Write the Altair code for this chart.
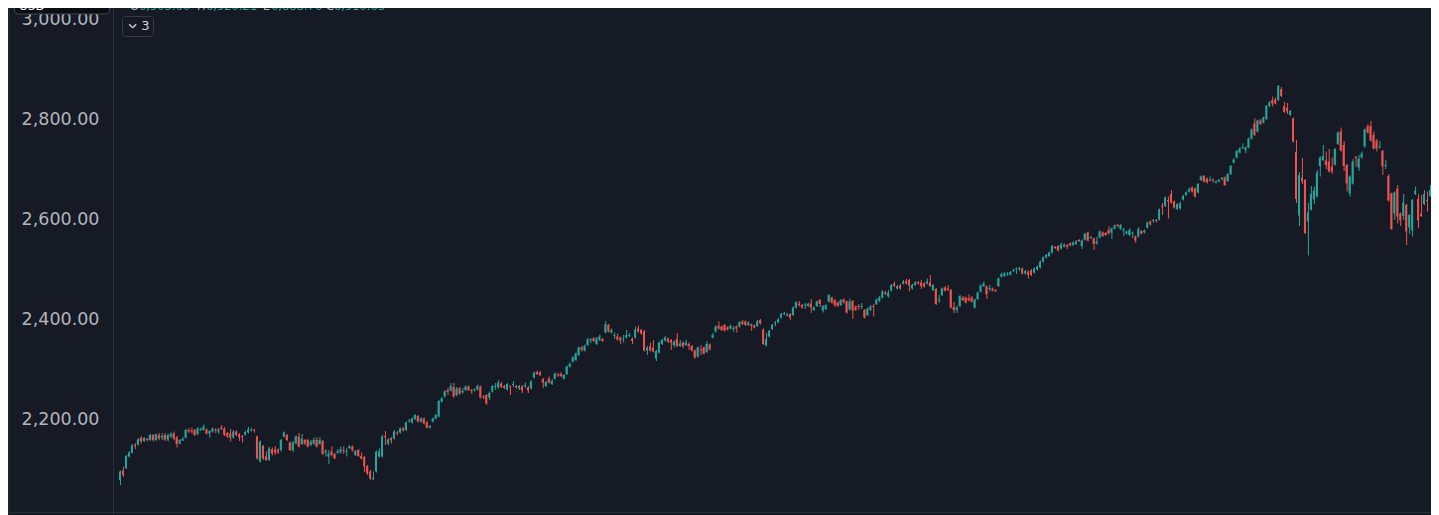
import altair as alt
import pandas as pd

# ---------------- data ----------------
opens = [
    2078, 2097, 2102, 2125, 2133, 2148, 2149, 2162, 2156, 2160,
    2158, 2168, 2158, 2168, 2163, 2168, 2159, 2165, 2171, 2163,
    2151, 2157, 2163, 2178, 2177, 2178, 2170, 2178, 2178, 2179,
    2171, 2175, 2179, 2175, 2183, 2181, 2172, 2171, 2163, 2175,
    2169, 2166, 2169, 2173, 2177, 2179, 2165, 2115, 2146, 2125,
    2118, 2140, 2139, 2139, 2138, 2165, 2168, 2153, 2138, 2151,
    2165, 2150, 2158, 2158, 2148, 2151, 2158, 2150, 2156, 2133,
    2125, 2135, 2130, 2133, 2133, 2138, 2134, 2142, 2145, 2128,
    2138, 2126, 2124, 2106, 2095, 2080, 2095, 2125, 2125, 2166,
    2151, 2161, 2161, 2173, 2173, 2181, 2178, 2195, 2193, 2200,
    2206, 2195, 2201, 2193, 2183, 2195, 2201, 2205, 2235, 2245,
    2257, 2257, 2264, 2248, 2261, 2253, 2258, 2265, 2258, 2257,
    2259, 2265, 2245, 2248, 2243, 2255, 2264, 2263, 2271, 2266,
    2259, 2266, 2268, 2266, 2261, 2265, 2266, 2263, 2261, 2283,
    2294, 2293, 2280, 2266, 2281, 2270, 2281, 2289, 2290, 2281,
    2290, 2305, 2315, 2318, 2328, 2343, 2337, 2348, 2357, 2361,
    2350, 2358, 2360, 2373, 2388, 2373, 2366, 2365, 2363, 2359,
    2363, 2366, 2361, 2363, 2381, 2378, 2375, 2337, 2345, 2343,
    2321, 2333, 2350, 2357, 2361, 2358, 2348, 2360, 2346, 2353,
    2348, 2350, 2346, 2337, 2325, 2339, 2343, 2334, 2349, 2363,
    2375, 2386, 2385, 2388, 2383, 2381, 2380, 2385, 2385, 2395,
    2395, 2388, 2389, 2387, 2386, 2398, 2379, 2347, 2365, 2380,
    2391, 2394, 2403, 2410, 2407, 2410, 2408, 2423, 2431, 2428,
    2427, 2426, 2431, 2418, 2426, 2438, 2417, 2420, 2435, 2443,
    2438, 2433, 2428, 2439, 2435, 2419, 2436, 2425, 2426, 2424,
    2418, 2408, 2418, 2426, 2430, 2436, 2443, 2453, 2445, 2457,
    2471, 2461, 2467, 2471, 2476, 2478, 2461, 2468, 2474, 2473,
    2471, 2471, 2473, 2458, 2460, 2437, 2448, 2463, 2461, 2458,
    2424, 2418, 2426, 2443, 2443, 2441, 2443, 2423, 2440, 2455,
    2466, 2465, 2460, 2461, 2458, 2466, 2485, 2486, 2489, 2489,
    2496, 2499, 2500, 2501, 2491, 2495, 2497, 2493, 2499, 2503,
    2515, 2523, 2526, 2533, 2544, 2546, 2541, 2545, 2548, 2551,
    2548, 2550, 2558, 2546, 2559, 2573, 2562, 2561, 2551, 2563,
    2573, 2572, 2578, 2573, 2581, 2588, 2580, 2577, 2571, 2568,
    2571, 2565, 2565, 2576, 2573, 2583, 2595, 2596, 2598, 2599,
    2626, 2626, 2638, 2650, 2635, 2620, 2621, 2639, 2648, 2655,
    2663, 2661, 2653, 2678, 2686, 2681, 2677, 2679, 2673, 2675,
    2680, 2683, 2676, 2690, 2713, 2723, 2733, 2742, 2738, 2743,
    2761, 2791, 2775, 2797, 2793, 2800, 2826, 2838, 2839, 2838,
    2860, 2826, 2822, 2808, 2801, 2734, 2607, 2683, 2678, 2595,
    2619, 2639, 2645, 2706, 2718, 2717, 2715, 2705, 2709, 2750,
    2775, 2748, 2708, 2651, 2671, 2724, 2703, 2723, 2745, 2785,
    2786, 2768, 2757, 2743, 2736, 2706, 2686, 2651, 2611, 2661,
    2611, 2606, 2628, 2583, 2577, 2650, 2640, 2611, 2630, 2638,
    2646, 2670,
]
highs = [
    2097, 2105, 2128, 2136, 2150, 2152, 2162, 2166, 2164, 2162,
    2170, 2170, 2171, 2172, 2172, 2172, 2171, 2174, 2175, 2166,
    2160, 2164, 2180, 2182, 2183, 2180, 2184, 2183, 2189, 2181,
    2178, 2183, 2182, 2182, 2188, 2184, 2174, 2180, 2178, 2177,
    2172, 2168, 2176, 2184, 2182, 2180, 2167, 2157, 2148, 2135,
    2144, 2143, 2146, 2141, 2160, 2175, 2170, 2155, 2156, 2167,
    2172, 2170, 2160, 2160, 2158, 2163, 2164, 2164, 2158, 2140,
    2138, 2145, 2133, 2140, 2145, 2145, 2142, 2148, 2147, 2138,
    2140, 2133, 2126, 2108, 2098, 2095, 2137, 2141, 2168, 2176,
    2162, 2164, 2178, 2176, 2183, 2184, 2195, 2200, 2203, 2210,
    2208, 2204, 2203, 2196, 2188, 2203, 2210, 2238, 2244, 2258,
    2262, 2272, 2272, 2264, 2264, 2262, 2267, 2267, 2260, 2262,
    2269, 2267, 2248, 2250, 2255, 2268, 2272, 2278, 2274, 2268,
    2272, 2267, 2276, 2268, 2268, 2268, 2273, 2266, 2278, 2295,
    2297, 2296, 2282, 2276, 2285, 2280, 2293, 2292, 2294, 2290,
    2307, 2313, 2326, 2333, 2345, 2346, 2349, 2362, 2362, 2364,
    2364, 2369, 2362, 2396, 2390, 2381, 2373, 2371, 2365, 2368,
    2378, 2372, 2363, 2385, 2387, 2380, 2378, 2346, 2353, 2358,
    2338, 2355, 2360, 2366, 2363, 2360, 2357, 2372, 2358, 2355,
    2358, 2353, 2348, 2339, 2345, 2348, 2345, 2356, 2351, 2372,
    2388, 2395, 2387, 2390, 2386, 2389, 2386, 2387, 2396, 2398,
    2397, 2395, 2391, 2389, 2398, 2400, 2381, 2372, 2378, 2390,
    2396, 2402, 2412, 2414, 2412, 2412, 2425, 2436, 2436, 2430,
    2432, 2433, 2440, 2425, 2437, 2440, 2428, 2429, 2450, 2445,
    2440, 2435, 2440, 2441, 2437, 2441, 2438, 2427, 2430, 2432,
    2420, 2423, 2428, 2430, 2441, 2446, 2458, 2456, 2458, 2470,
    2475, 2468, 2470, 2478, 2480, 2480, 2470, 2476, 2476, 2478,
    2474, 2481, 2488, 2470, 2462, 2448, 2463, 2466, 2468, 2460,
    2434, 2426, 2448, 2446, 2445, 2449, 2446, 2441, 2455, 2469,
    2475, 2467, 2468, 2463, 2460, 2483, 2493, 2494, 2494, 2496,
    2501, 2503, 2504, 2503, 2498, 2497, 2500, 2503, 2507, 2517,
    2525, 2530, 2535, 2548, 2546, 2548, 2553, 2551, 2550, 2553,
    2555, 2558, 2560, 2559, 2572, 2575, 2566, 2563, 2565, 2577,
    2575, 2574, 2585, 2583, 2589, 2590, 2590, 2582, 2577, 2582,
    2575, 2567, 2584, 2578, 2579, 2595, 2597, 2600, 2600, 2621,
    2632, 2645, 2645, 2658, 2637, 2632, 2635, 2648, 2655, 2663,
    2665, 2663, 2672, 2687, 2688, 2683, 2685, 2681, 2677, 2680,
    2684, 2685, 2692, 2708, 2721, 2738, 2743, 2751, 2745, 2763,
    2781, 2801, 2799, 2800, 2805, 2828, 2836, 2845, 2843, 2868,
    2864, 2834, 2832, 2818, 2803, 2758, 2694, 2722, 2680, 2632,
    2666, 2665, 2698, 2725, 2748, 2735, 2740, 2723, 2742, 2775,
    2783, 2756, 2710, 2687, 2720, 2726, 2728, 2735, 2781, 2790,
    2796, 2775, 2760, 2756, 2738, 2718, 2690, 2653, 2655, 2668,
    2613, 2650, 2630, 2610, 2640, 2665, 2650, 2648, 2658, 2655,
    2668, 2672,
]
lows = [
    2068, 2084, 2100, 2123, 2131, 2140, 2147, 2151, 2154, 2155,
    2156, 2155, 2156, 2158, 2158, 2156, 2155, 2162, 2158, 2143,
    2149, 2156, 2161, 2172, 2171, 2166, 2168, 2176, 2177, 2169,
    2163, 2173, 2172, 2170, 2178, 2166, 2162, 2155, 2161, 2166,
    2156, 2153, 2167, 2171, 2175, 2173, 2119, 2113, 2118, 2116,
    2116, 2127, 2128, 2130, 2135, 2163, 2156, 2136, 2134, 2149,
    2143, 2148, 2148, 2143, 2146, 2148, 2143, 2148, 2128, 2125,
    2110, 2125, 2120, 2130, 2131, 2130, 2125, 2140, 2135, 2126,
    2124, 2119, 2094, 2088, 2078, 2078, 2093, 2123, 2123, 2148,
    2147, 2151, 2159, 2168, 2171, 2175, 2176, 2193, 2191, 2198,
    2193, 2193, 2189, 2181, 2181, 2193, 2199, 2203, 2233, 2243,
    2248, 2255, 2243, 2245, 2248, 2251, 2256, 2256, 2250, 2255,
    2257, 2241, 2240, 2228, 2238, 2253, 2258, 2261, 2262, 2260,
    2257, 2248, 2264, 2261, 2258, 2252, 2262, 2252, 2259, 2281,
    2288, 2286, 2262, 2264, 2271, 2268, 2279, 2284, 2284, 2279,
    2288, 2303, 2313, 2316, 2326, 2335, 2335, 2346, 2352, 2354,
    2348, 2356, 2354, 2371, 2373, 2371, 2360, 2357, 2350, 2353,
    2361, 2364, 2350, 2361, 2373, 2369, 2335, 2328, 2335, 2333,
    2316, 2331, 2348, 2355, 2352, 2338, 2343, 2344, 2344, 2342,
    2346, 2338, 2335, 2321, 2323, 2328, 2329, 2332, 2337, 2361,
    2373, 2379, 2376, 2375, 2377, 2379, 2374, 2373, 2383, 2388,
    2386, 2386, 2376, 2381, 2384, 2389, 2348, 2345, 2363, 2378,
    2386, 2392, 2401, 2408, 2405, 2398, 2406, 2421, 2425, 2421,
    2420, 2424, 2412, 2416, 2424, 2424, 2413, 2418, 2433, 2431,
    2424, 2424, 2426, 2431, 2411, 2417, 2400, 2416, 2418, 2420,
    2401, 2406, 2416, 2405, 2428, 2434, 2441, 2448, 2443, 2455,
    2464, 2459, 2459, 2469, 2469, 2455, 2459, 2466, 2469, 2460,
    2463, 2469, 2464, 2456, 2428, 2432, 2446, 2455, 2456, 2421,
    2412, 2412, 2424, 2436, 2431, 2435, 2433, 2421, 2438, 2453,
    2464, 2440, 2455, 2455, 2454, 2464, 2483, 2484, 2486, 2487,
    2494, 2490, 2496, 2489, 2489, 2481, 2486, 2491, 2497, 2501,
    2513, 2521, 2524, 2531, 2540, 2535, 2539, 2543, 2540, 2545,
    2546, 2548, 2554, 2540, 2557, 2555, 2560, 2538, 2549, 2561,
    2564, 2566, 2569, 2560, 2579, 2583, 2578, 2566, 2569, 2566,
    2562, 2552, 2563, 2569, 2571, 2581, 2587, 2592, 2593, 2597,
    2608, 2624, 2601, 2631, 2621, 2618, 2619, 2637, 2646, 2653,
    2653, 2643, 2651, 2676, 2673, 2671, 2675, 2673, 2671, 2673,
    2677, 2666, 2674, 2688, 2711, 2721, 2731, 2740, 2731, 2741,
    2759, 2766, 2773, 2788, 2791, 2798, 2824, 2825, 2829, 2836,
    2844, 2812, 2810, 2806, 2753, 2632, 2586, 2670, 2570, 2527,
    2617, 2630, 2643, 2685, 2716, 2700, 2693, 2690, 2707, 2748,
    2735, 2696, 2655, 2645, 2669, 2705, 2696, 2721, 2743, 2771,
    2755, 2739, 2735, 2741, 2688, 2700, 2635, 2578, 2598, 2591,
    2586, 2598, 2548, 2570, 2565, 2648, 2582, 2604, 2628, 2615,
    2644, 2644,
]
closes = [
    2095, 2088, 2126, 2133, 2147, 2146, 2159, 2155, 2162, 2158,
    2168, 2158, 2169, 2161, 2166, 2159, 2168, 2170, 2161, 2150,
    2158, 2160, 2178, 2175, 2175, 2168, 2181, 2180, 2185, 2171,
    2176, 2181, 2177, 2179, 2180, 2168, 2165, 2163, 2175, 2168,
    2163, 2164, 2174, 2179, 2179, 2177, 2121, 2155, 2121, 2118,
    2141, 2131, 2133, 2133, 2158, 2173, 2158, 2138, 2153, 2165,
    2145, 2161, 2151, 2145, 2155, 2158, 2145, 2158, 2130, 2136,
    2131, 2128, 2121, 2136, 2139, 2136, 2136, 2146, 2137, 2136,
    2126, 2121, 2105, 2091, 2081, 2082, 2135, 2135, 2165, 2164,
    2159, 2157, 2175, 2171, 2181, 2177, 2193, 2197, 2201, 2208,
    2195, 2201, 2191, 2183, 2186, 2201, 2208, 2236, 2241, 2255,
    2254, 2266, 2245, 2261, 2251, 2256, 2265, 2258, 2256, 2259,
    2266, 2243, 2243, 2231, 2252, 2266, 2266, 2273, 2264, 2262,
    2270, 2264, 2270, 2263, 2266, 2257, 2268, 2257, 2275, 2292,
    2290, 2288, 2273, 2274, 2273, 2276, 2291, 2287, 2286, 2288,
    2305, 2310, 2323, 2331, 2343, 2339, 2346, 2359, 2359, 2356,
    2361, 2365, 2356, 2390, 2375, 2378, 2368, 2359, 2357, 2361,
    2368, 2368, 2356, 2379, 2375, 2371, 2337, 2343, 2337, 2335,
    2336, 2353, 2358, 2363, 2355, 2353, 2355, 2346, 2351, 2346,
    2353, 2346, 2337, 2323, 2343, 2337, 2331, 2350, 2339, 2368,
    2385, 2381, 2378, 2377, 2379, 2386, 2382, 2381, 2394, 2390,
    2388, 2393, 2386, 2383, 2396, 2391, 2350, 2360, 2376, 2388,
    2393, 2399, 2410, 2412, 2409, 2403, 2423, 2433, 2428, 2423,
    2429, 2430, 2423, 2423, 2435, 2430, 2426, 2428, 2448, 2433,
    2428, 2426, 2438, 2433, 2413, 2435, 2417, 2418, 2424, 2426,
    2403, 2421, 2425, 2424, 2439, 2443, 2455, 2450, 2453, 2468,
    2466, 2466, 2461, 2475, 2471, 2467, 2468, 2473, 2471, 2466,
    2465, 2475, 2466, 2468, 2430, 2439, 2461, 2457, 2458, 2423,
    2418, 2423, 2446, 2438, 2433, 2437, 2435, 2439, 2453, 2467,
    2471, 2450, 2462, 2457, 2456, 2481, 2490, 2491, 2491, 2494,
    2498, 2501, 2502, 2491, 2496, 2488, 2488, 2501, 2505, 2515,
    2523, 2528, 2533, 2546, 2542, 2537, 2549, 2549, 2545, 2547,
    2553, 2555, 2556, 2557, 2570, 2557, 2564, 2550, 2555, 2575,
    2566, 2568, 2571, 2581, 2587, 2586, 2588, 2579, 2575, 2578,
    2573, 2557, 2580, 2571, 2577, 2593, 2589, 2598, 2596, 2619,
    2624, 2643, 2635, 2633, 2623, 2630, 2631, 2646, 2653, 2659,
    2655, 2645, 2670, 2685, 2675, 2673, 2679, 2677, 2675, 2678,
    2682, 2668, 2690, 2706, 2719, 2736, 2741, 2744, 2743, 2761,
    2779, 2768, 2797, 2790, 2803, 2826, 2833, 2831, 2831, 2866,
    2846, 2814, 2815, 2816, 2755, 2640, 2688, 2675, 2572, 2613,
    2650, 2657, 2693, 2723, 2726, 2708, 2695, 2695, 2740, 2773,
    2737, 2706, 2671, 2685, 2715, 2722, 2721, 2731, 2779, 2773,
    2757, 2741, 2741, 2745, 2705, 2708, 2637, 2580, 2653, 2605,
    2597, 2633, 2575, 2608, 2638, 2657, 2597, 2606, 2650, 2636,
    2658, 2646,
]

price_ticks = [2200, 2400, 2600, 2800, 3000]
ohlc_letters = ["O", "H", "L", "C"]
ohlc_values = ["6,903.60", "6,920.21", "6,888.76", "6,910.63"]
currency = "USD"
interval_badge = "3"

# ---------------- styling ----------------
BG = "#161a25"
UP = "#26a69a"
DOWN = "#ef5350"
LINE = "#2a2e39"
LABEL = "#b2b5be"
FONT = "DejaVu Sans"

PLOT_W = 1318   # visible price pane (page x 113 .. 1431)
PLOT_H = 504    # page y 8 .. 512

n = len(closes)
df = pd.DataFrame({"idx": list(range(n)), "o": opens, "h": highs, "l": lows, "c": closes})

x0 = -2 / 3
xscale = alt.Scale(domain=[x0, x0 + PLOT_W / 3], nice=False, zero=False)
yscale = alt.Scale(domain=[2014, 3022], nice=False, zero=False)
yaxis = alt.Axis(values=price_ticks, format=",.2f", labelFont=FONT, labelFontSize=17.5,
                 labelColor=LABEL, labelPadding=14, ticks=False, domain=False, grid=False,
                 title="")
color = alt.Color("dir:N", scale=alt.Scale(domain=["up", "down"], range=[UP, DOWN]), legend=None)

base = alt.Chart(df).transform_calculate(dir="datum.c >= datum.o ? 'up' : 'down'")

wicks = base.mark_rule(strokeWidth=1, xOffset=0.5, clip=True).encode(
    x=alt.X("idx:Q", scale=xscale, axis=None),
    y=alt.Y("l:Q", scale=yscale, axis=yaxis),
    y2="h:Q",
    color=color,
)
bodies = base.mark_bar(size=2, clip=True).encode(
    x=alt.X("idx:Q", scale=xscale, axis=None),
    y=alt.Y("o:Q", scale=yscale, axis=yaxis),
    y2="c:Q",
    color=color,
)

one = pd.DataFrame({"k": [0]})

left_strip = alt.Chart(one).mark_rule(color="#202226", strokeWidth=2).encode(
    x=alt.value(-104), y=alt.value(0), y2=alt.value(507))
vline = alt.Chart(one).mark_rule(color=LINE, strokeWidth=1).encode(
    x=alt.value(0.5), y=alt.value(0), y2=alt.value(507))
hline = alt.Chart(one).mark_rule(color=LINE, strokeWidth=1).encode(
    x=alt.value(-103), x2=alt.value(PLOT_W), y=alt.value(504.5))

usd_box = alt.Chart(one).mark_rect(fill="#0c0e13", stroke="#434651", strokeWidth=1,
                                   cornerRadius=4).encode(
    x=alt.value(-98.5), x2=alt.value(-3.5), y=alt.value(-40), y2=alt.value(6))
usd_text = alt.Chart(one).mark_text(text=currency, font=FONT, fontSize=12, color="#ffffff",
                                    align="left", baseline="alphabetic").encode(
    x=alt.value(-94), y=alt.value(1.5))

ohlc_df = pd.DataFrame({"letter": ohlc_letters, "value": ohlc_values,
                        "lx": [17, 84, 150, 213], "vx": [26, 93, 158, 221]})
ohlc_l = alt.Chart(ohlc_df).mark_text(font=FONT, fontSize=11.5, color=LABEL, align="left",
                                      baseline="alphabetic").encode(
    x=alt.X("lx:Q", scale=None), y=alt.value(2), text="letter:N")
ohlc_v = alt.Chart(ohlc_df).mark_text(font=FONT, fontSize=11.5, color=UP, align="left",
                                      baseline="alphabetic").encode(
    x=alt.X("vx:Q", scale=None), y=alt.value(2), text="value:N")

btn = alt.Chart(one).mark_rect(fill=BG, stroke="#363a45", strokeWidth=1, cornerRadius=3).encode(
    x=alt.value(9.5), x2=alt.value(40.5), y=alt.value(8.5), y2=alt.value(28.5))
chev1 = alt.Chart(one).mark_rule(color="#d1d4dc", strokeWidth=1.3).encode(
    x=alt.value(16.2), y=alt.value(16.3), x2=alt.value(19.7), y2=alt.value(19.8))
chev2 = alt.Chart(one).mark_rule(color="#d1d4dc", strokeWidth=1.3).encode(
    x=alt.value(19.7), y=alt.value(19.8), x2=alt.value(23.2), y2=alt.value(16.3))
btn_text = alt.Chart(one).mark_text(text=interval_badge, font=FONT, fontSize=13,
                                    color="#d1d4dc", align="center", baseline="middle").encode(
    x=alt.value(32.3), y=alt.value(18.4))

chart = alt.layer(
    left_strip, wicks, bodies, vline, hline, usd_box, usd_text, ohlc_l, ohlc_v,
    btn, chev1, chev2, btn_text,
).properties(
    width=PLOT_W,
    height=PLOT_H,
    padding={"left": 105, "top": 0, "right": 0, "bottom": 3},
    autosize=alt.AutoSizeParams(type="none"),
    background=BG,
).configure_view(strokeWidth=0)

chart.save("out.html", embed_options={"renderer": "svg", "actions": False})
